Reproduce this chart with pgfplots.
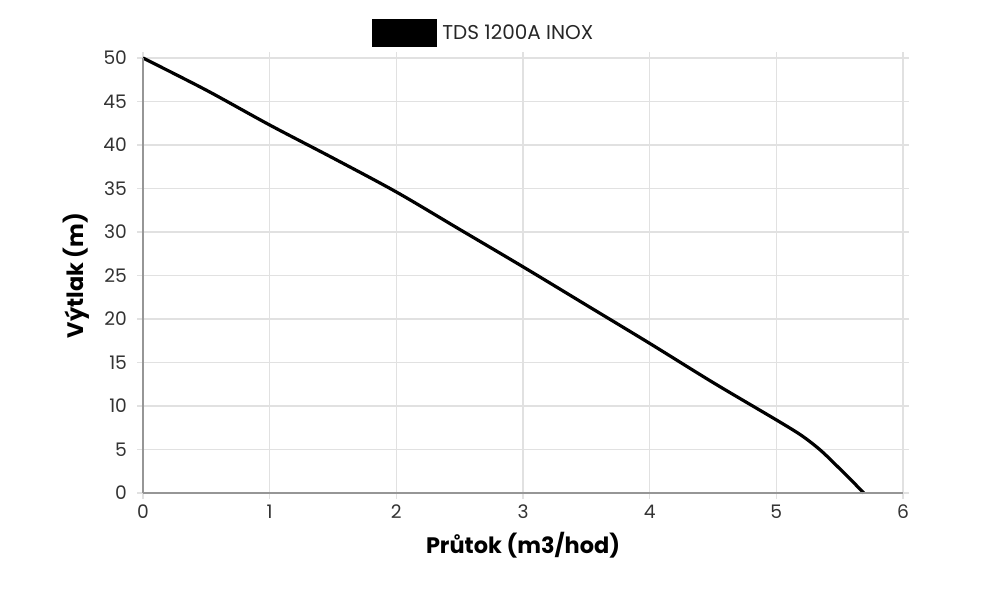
\documentclass[border=0pt]{standalone}
\usepackage{pgfplots}
\pgfplotsset{compat=1.18}
\usepackage{fontspec}
\setmainfont{Poppins}
\definecolor{gridc}{RGB}{225,225,225}
\definecolor{axc}{RGB}{150,150,150}
\begin{document}
\begin{tikzpicture}
\begin{axis}[
  scale only axis,
  width=570pt, height=326.25pt,
  xmin=0, xmax=6, ymin=0, ymax=50,
  xtick={0,1,2,3,4,5,6},
  ytick={0,5,10,15,20,25,30,35,40,45,50},
  grid=major,
  major grid style={gridc, line width=0.8pt},
  axis line style={gridc, line width=0.8pt},
  tick style={gridc, line width=0.8pt},
  tick align=outside,
  major tick length=4.5pt,
  /pgf/number format/assume math mode=true,
  ticklabel style={font=\fontsize{14}{16}\selectfont, text=black!80},
  xticklabel style={yshift=-1pt},
  yticklabel style={xshift=-4pt},
  xlabel={\textbf{Průtok (m3/hod)}},
  ylabel={\textbf{Výtlak (m)}},
  label style={font=\fontsize{16.8}{19}\selectfont},
  xlabel style={yshift=-3pt},
  ylabel style={yshift=4pt},
  legend style={at={(0.449,1.0575)}, anchor=center, draw=none, fill=none,
    font=\fontsize{15}{17}\selectfont, text=black!85,
    legend cell align=left},
  legend image code/.code={\fill[black] (0pt,-9pt) rectangle (46pt,9pt); \path (48pt,0);},
  clip=false,
  name=ax,
]
\addplot[black, line width=2.4pt, smooth, tension=0.5] coordinates {
 (0,50) (0.5,46.3) (1,42.3) (1.5,38.5) (2,34.6) (2.5,30.3) (3,26.0)
 (3.5,21.6) (4,17.2) (4.5,12.7) (5,8.4) (5.2,6.6) (5.35,4.9) (5.5,2.8) (5.6,1.35) (5.69,0)
};
\addlegendentry{TDS 1200A INOX}
\draw[axc, line width=1pt] (rel axis cs:0,0) -- (rel axis cs:0,1);
\draw[axc, line width=1pt] (rel axis cs:0,0) -- (rel axis cs:1,0);
\end{axis}
\path (ax.south west) ++(-107.25pt,-76.5pt) rectangle ++(750pt,446.25pt);
\end{tikzpicture}
\end{document}
